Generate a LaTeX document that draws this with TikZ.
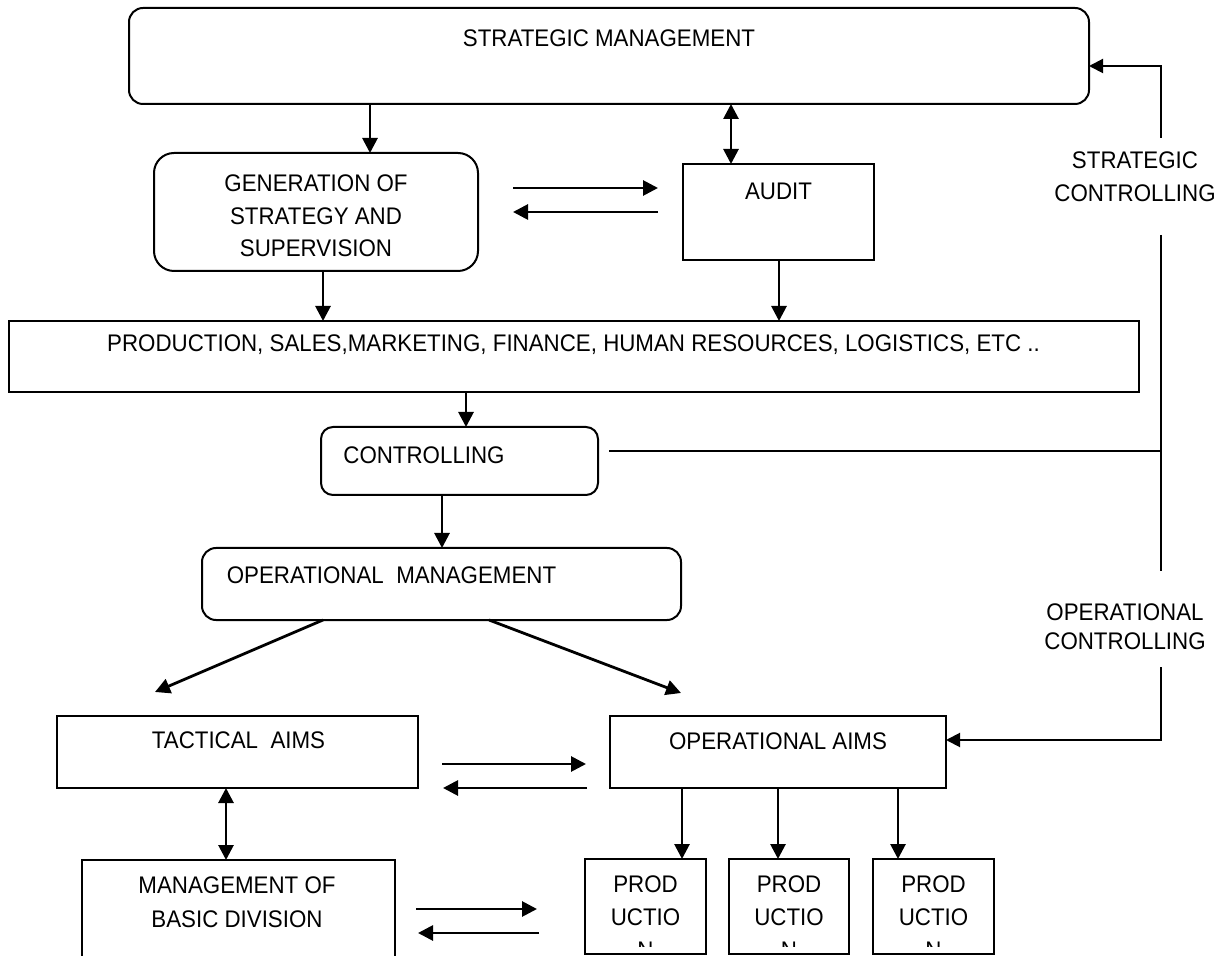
\documentclass[tikz,border=0pt]{standalone}
\usepackage{fontspec}
\setmainfont[FakeStretch=0.93]{Liberation Sans}
\usetikzlibrary{arrows.meta}

\begin{document}
\begin{tikzpicture}[
    x=0.5pt, y=-0.5pt,
    box/.style={draw, line width=1pt, inner sep=0pt, outer sep=0pt},
    rbox/.style={box, rounded corners=7pt},
    flow/.style={-{Triangle[length=7.5pt, width=7.5pt]}, line width=1.4pt},
    twoway/.style={{Triangle[length=7.5pt, width=7.5pt]}-{Triangle[length=7.5pt, width=7.5pt]},
                   line width=1.4pt},
    feed/.style={line width=1pt},
    feedflow/.style={feed, -{Triangle[length=7pt, width=7pt]}},
    note/.style={font=\fontsize{12}{16.5}\selectfont, align=center, inner sep=0pt},
]
    \fill[white] (0,0) rectangle (1215,956);
    \useasboundingbox (0,0) rectangle (1215,956);

    \node[rbox, minimum width=480pt, minimum height=48pt] (strat) at (609,56) {};
    \node[note] (strat-t) at (609,38.5) {STRATEGIC MANAGEMENT};
    \node[rbox, rounded corners=10pt, minimum width=162pt, minimum height=59pt] (gen) at (316,212) {};
    \node[note, font=\fontsize{12}{16.25}\selectfont] (gen-t) at (316,216)
        {GENERATION OF\\STRATEGY AND\\SUPERVISION};
    \node[box, minimum width=95.5pt, minimum height=48pt] (audit) at (778.5,212) {};
    \node[note] (audit-t) at (778.5,191) {AUDIT};
    \node[box, minimum width=565pt, minimum height=35.5pt] (func) at (574,356.5) {};
    \node[note] (func-t) at (573.5,345)
        {PRODUCTION, SALES,MARKETING, FINANCE, HUMAN RESOURCES, LOGISTICS, ETC ..};
    \node[rbox, rounded corners=6pt, minimum width=138.5pt, minimum height=34pt] (ctrl) at (459.5,461) {};
    \node[note] (ctrl-t) at (424,455) {CONTROLLING};
    \node[rbox, minimum width=239.5pt, minimum height=36pt] (opman) at (441.5,584) {};
    \node[note] (opman-t) at (391.5,575) {OPERATIONAL\ \ MANAGEMENT};
    \node[box, minimum width=180.5pt, minimum height=36pt] (tact) at (237.5,752) {};
    \node[note] (tact-t) at (238.5,740) {TACTICAL\ \ AIMS};
    \node[box, minimum width=168pt, minimum height=36pt] (opaims) at (778,752) {};
    \node[note] (opaims-t) at (778,741) {OPERATIONAL AIMS};
    \node[box, minimum width=156.5pt, minimum height=60pt] (basic) at (238.5,920) {};
    \node[note, font=\fontsize{12}{17}\selectfont] (basic-t) at (237,902)
        {MANAGEMENT OF\\BASIC DIVISION};
    \node[box, minimum width=60.5pt, minimum height=47.5pt] (prodA) at (645.5,906.5) {};
    \node[box, minimum width=60pt, minimum height=47.5pt] (prodB) at (789,906.5) {};
    \node[box, minimum width=60.5pt, minimum height=47.5pt] (prodC) at (933.5,906.5) {};
    \begin{scope}
        \clip (prodA.north west) rectangle ([yshift=4pt]prodA.south east);
        \node[note] (prodA-t) at ([yshift=-5.25pt]prodA.center) {PROD\\UCTIO\\N};
    \end{scope}
    \begin{scope}
        \clip (prodB.north west) rectangle ([yshift=4pt]prodB.south east);
        \node[note] (prodB-t) at ([yshift=-5.25pt]prodB.center) {PROD\\UCTIO\\N};
    \end{scope}
    \begin{scope}
        \clip (prodC.north west) rectangle ([yshift=4pt]prodC.south east);
        \node[note] (prodC-t) at ([yshift=-5.25pt]prodC.center) {PROD\\UCTIO\\N};
    \end{scope}

    \node[note] (sctrl) at (1135,176.5) {STRATEGIC\\CONTROLLING};
    \node[note, font=\fontsize{12}{14.5}\selectfont] (octrl) at (1125,626.5) {OPERATIONAL\\CONTROLLING};
    \coordinate (sc-top) at (1161,138);
    \coordinate (sc-bot) at (1161,235);
    \coordinate (junc) at (1161,451);
    \coordinate (oc-top) at (1161,571);
    \coordinate (oc-bot) at (1161,667);

    \draw[flow] (strat.south -| 370,0) -- (gen.north -| 370,0);
    \draw[twoway] (strat.south -| 731,0) -- (audit.north -| 731,0);
    \draw[flow] ([shift={(35,-24)}]gen.east) -- ([shift={(-25,-24)}]audit.west);
    \draw[flow] ([xshift=-12.5pt]audit.west) -- ([xshift=17.5pt]gen.east);
    \draw[flow] (gen.south -| 323,0) -- (func.north -| 323,0);
    \draw[flow] (audit.south -| 779,0) -- (func.north -| 779,0);
    \draw[flow] (func.south -| 466,0) -- (ctrl.north -| 466,0);
    \draw[flow] (ctrl.south -| 442,0) -- (opman.north -| 442,0);
    \draw[flow] ([xshift=-59.25pt]opman.south) -- ([shift={(-82.5,-24)}]tact.north);
    \draw[flow] ([xshift=23.75pt]opman.south) -- ([shift={(-97,-23)}]opaims.north);
    \draw[flow] ([shift={(24,12)}]tact.east) -- ([shift={(-24,12)}]opaims.west);
    \draw[flow] ([shift={(-23,36)}]opaims.west) -- ([shift={(25,36)}]tact.east);
    \draw[twoway] (tact.south -| 226,0) -- (basic.north -| 226,0);
    \draw[flow] ([shift={(21,-11)}]basic.east) -- ([shift={(-48,2.5)}]prodA.west);
    \draw[flow] ([shift={(-46,26.5)}]prodA.west) -- ([shift={(23,13)}]basic.east);
    \draw[flow] (opaims.south -| 682,0) -- (prodA.north -| 682,0);
    \draw[flow] (opaims.south -| 778,0) -- (prodB.north -| 778,0);
    \draw[flow] (opaims.south -| 898,0) -- (prodC.north -| 898,0);

    \draw[feedflow] (sc-top) |- ([yshift=-5pt]strat.east);
    \draw[feed] (sc-bot) -- (junc) -- (oc-top);
    \draw[feed] ([shift={(11,-10)}]ctrl.east) -- (junc);
    \draw[feedflow] (oc-bot) |- ([yshift=6pt]opaims.east);
\end{tikzpicture}
\end{document}
